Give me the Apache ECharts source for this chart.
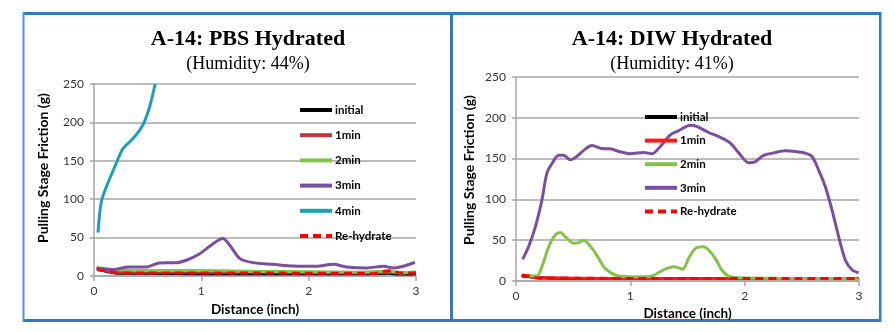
<!DOCTYPE html>
<html><head><meta charset="utf-8">
<script src="https://cdn.jsdelivr.net/npm/echarts@6/dist/echarts.min.js"></script>
<style>html,body{margin:0;padding:0;background:#fff}#c{width:895px;height:332px}</style>
</head><body><div id="c"></div>
<script>
// ---------- Left panel: PBS Hydrated ----------
const pbsBaseX = [0.03, 0.2, 0.5, 1.0, 1.5, 2.0, 2.5, 2.75, 2.85, 3.0];
const pbsInit  = [9, 4, 3.5, 3, 3, 3, 3, 3.5, 2.5, 3];
const pbs1min  = [9, 5, 5, 5, 5, 4.5, 4, 5, 4, 4.5];
const pbs2min  = [11, 8, 7, 7, 6, 5.5, 5, 6.5, 4, 5.5];
const pbs3minX = [0.02,0.18,0.32,0.49,0.61,0.77,0.86,0.985,1.11,1.2,1.265,1.36,1.48,1.67,1.86,2.07,2.23,2.35,2.54,2.7,2.79,2.88,2.99];
const pbs3min  = [10,8.3,11.8,11.8,17,17.4,20.5,29,42,48.8,40,22.6,17.4,15.2,13,12.6,15.2,11.8,10.5,12.6,10.5,12.6,17.9];
const pbs4minX = [0.037,0.068,0.115,0.193,0.27,0.35,0.426,0.47,0.52,0.57];
const pbs4min  = [56.6,96.7,116,142,166,177,190,201,221,250];
const pbsRehX  = [0.03,0.15,0.2,0.5,1.0,1.5,2.0,2.5,2.6,2.7,2.78,2.85,2.92,3.0];
const pbsReh   = [8,6,4,4,4,4,3.5,3.5,3,6,7,4,4,4];

// ---------- Right panel: DIW Hydrated ----------
const diwBaseX = [0.05,0.2,0.5,1,1.5,2,2.5,3];
const diwInit  = [6,4,3,3,3,3,3,3];
const diw1min  = [7,4,3.5,3,3,3,3,3];
const diw2minX = [0.058,0.18,0.227,0.286,0.344,0.388,0.43,0.504,0.548,0.59,0.665,0.723,0.78,0.868,0.985,1.13,1.19,1.262,1.32,1.38,1.42,1.458,1.51,1.57,1.64,1.685,1.743,1.8,1.86,1.95,2.3,2.7,2.97,3.0];
const diw2min  = [7.4,6,17.6,42,56.5,59.3,54.4,46.2,47,50,40,27.8,15.5,7.4,5.3,5.3,6.1,11.5,15.5,17.6,16.4,14.3,27.8,40,42,38,27.8,13.5,6.1,4,3.3,3,2.5,0.5];
const diw3minX = [0.058,0.11,0.17,0.227,0.27,0.315,0.373,0.417,0.475,0.53,0.606,0.665,0.75,0.825,0.9,1.0,1.117,1.19,1.262,1.35,1.42,1.525,1.58,1.685,1.787,1.875,1.95,2.035,2.09,2.166,2.254,2.356,2.443,2.53,2.589,2.647,2.705,2.764,2.822,2.88,2.94,2.997];
const diw3min  = [26.6,42,66.7,99.4,132,144,154,154,148.5,152.6,161.6,166,162.4,162,158.8,156,157.5,156,164.9,179,184,191,189.4,182,176,169,156.7,145,146,154,157,159.6,158.8,156.7,152.6,136,115.8,87,54.4,25.8,13.5,10.2];
const diwRehX  = [0.05,0.12,0.2,0.5,1,1.5,2,2.5,3];
const diwReh   = [7,6,3.5,3.5,3,3,3,3,3];

const xTicks = [0, 1, 2, 3];
const yTicks = [0, 50, 100, 150, 200, 250];
const legendLeft  = ['initial', '1min', '2min', '3min', '4min', 'Re-hydrate'];
const legendRight = ['initial', '1min', '2min', '3min', 'Re-hydrate'];

const pairs = (xs, ys) => xs.map((x, i) => [x, ys[i]]);
const C = { black:'#000000', darkRed:'#c0383c', red:'#ff1a1a', green:'#86c24a', purple:'#7b4f9f', teal:'#1e9fb5', dash:'#ff0000' };

const FONT = 'Lato, "Liberation Sans", sans-serif';
function mkSeries(name, data, idx, color, dashed) {
  return { name, type:'line', xAxisIndex: idx, yAxisIndex: idx, data, symbol:'none', smooth:0.3,
    lineStyle:{ color, width: 3, type: dashed ? [8,5] : 'solid' }, itemStyle:{color}, z: dashed ? 5 : 3 };
}
const series = [
  mkSeries('initial', pairs(pbsBaseX, pbsInit), 0, C.black),
  mkSeries('1min', pairs(pbsBaseX, pbs1min), 0, C.darkRed),
  mkSeries('2min', pairs(pbsBaseX, pbs2min), 0, C.green),
  mkSeries('3min', pairs(pbs3minX, pbs3min), 0, C.purple),
  mkSeries('4min', pairs(pbs4minX, pbs4min), 0, C.teal),
  mkSeries('Re-hydrate', pairs(pbsRehX, pbsReh), 0, C.dash, true),
  mkSeries('initial', pairs(diwBaseX, diwInit), 1, C.black),
  mkSeries('1min', pairs(diwBaseX, diw1min), 1, C.red),
  mkSeries('2min', pairs(diw2minX, diw2min), 1, C.green),
  mkSeries('3min', pairs(diw3minX, diw3min), 1, C.purple),
  mkSeries('Re-hydrate', pairs(diwRehX, diwReh), 1, C.dash, true),
];

const leftColors  = [C.black, C.darkRed, C.green, C.purple, C.teal, C.dash];
const rightColors = [C.black, C.red, C.green, C.purple, C.dash];
function legendData(names, colors) {
  return names.map((n, i) => ({ name: n, itemStyle:{color: colors[i], opacity: 0},
    lineStyle:{ color: colors[i], width: 4, type: n === 'Re-hydrate' ? [8,5] : 'solid' } }));
}
const legendCommon = { orient:'vertical', itemWidth:32, itemHeight:12, selectedMode:false, padding:0,
  textStyle:{ fontFamily: FONT, fontWeight:'bold', fontSize:11.5, color:'#000', padding:[0,0,0,-2] } };

function xAxis(idx, gap) {
  return { type:'value', gridIndex: idx, min:0, max:3, interval:1,
    name:'Distance (inch)', nameLocation:'middle', nameGap: gap,
    nameTextStyle:{ fontFamily: FONT, fontWeight:'bold', fontSize:13.5, color:'#000' },
    axisLine:{ lineStyle:{ color:'#a6a6a6', width:1.5 } },
    axisTick:{ show:true, length:5, lineStyle:{ color:'#a6a6a6', width:1.5 } },
    axisLabel:{ fontFamily: FONT, fontSize:12, color:'#333', margin:9,
      formatter: v => xTicks.includes(v) ? String(v) : '' },
    splitLine:{ show:false } };
}
function yAxis(idx, gap, shift) {
  return { type:'value', gridIndex: idx, min:0, max:250, interval:50,
    name:'Pulling Stage Friction (g)', nameLocation:'middle', nameGap: gap, nameRotate: 90,
    nameTextStyle:{ fontFamily: FONT, fontWeight:'bold', fontSize:14, color:'#000', padding:[0,0,0,shift] },
    axisLine:{ show:true, lineStyle:{ color:'#a6a6a6', width:1.5 } },
    axisTick:{ show:true, length:4, lineStyle:{ color:'#a6a6a6', width:1.5 } },
    axisLabel:{ fontFamily: FONT, fontSize:12, color:'#333', margin:10,
      formatter: v => yTicks.includes(v) ? String(v) : '' },
    splitLine:{ show:true, lineStyle:{ color:'#a6a6a6', width:1.5 } } };
}

const blue = '#3378c6';
const option = {
  backgroundColor:'#fff',
  animation:false,
  title:[
    { text:'A-14: PBS Hydrated', subtext:'(Humidity: 44%)', left:243, top:23, textAlign:'center', itemGap:5,
      textStyle:{ fontFamily:'"Liberation Serif", serif', fontWeight:'bold', fontSize:22, color:'#000' },
      subtextStyle:{ fontFamily:'"Liberation Serif", serif', fontSize:18, color:'#000' } },
    { text:'A-14: DIW Hydrated', subtext:'(Humidity: 41%)', left:667, top:23, textAlign:'center', itemGap:5,
      textStyle:{ fontFamily:'"Liberation Serif", serif', fontWeight:'bold', fontSize:22, color:'#000' },
      subtextStyle:{ fontFamily:'"Liberation Serif", serif', fontSize:18, color:'#000' } }
  ],
  legend:[
    Object.assign({}, legendCommon, { left:298, top:104, itemGap:13.2, data: legendData(legendLeft, leftColors) }),
    Object.assign({}, legendCommon, { left:643, top:111, itemGap:11.6, data: legendData(legendRight, rightColors) })
  ],
  grid:[
    { left:94, top:84, width:322, height:192 },
    { left:516, top:77, width:343, height:204 }
  ],
  xAxis:[ xAxis(0, 27), xAxis(1, 22) ],
  yAxis:[ yAxis(0, 44, 24), yAxis(1, 40, 18) ],
  series,
  graphic:[
    { type:'rect', shape:{x:23, y:12, width:858, height:3}, style:{fill:blue}, silent:true },
    { type:'rect', shape:{x:23, y:319, width:858, height:3}, style:{fill:blue}, silent:true },
    { type:'rect', shape:{x:22.5, y:12, width:2, height:310}, style:{fill:'#5b8fd0'}, silent:true },
    { type:'rect', shape:{x:450, y:12, width:3, height:310}, style:{fill:blue}, silent:true },
    { type:'rect', shape:{x:879, y:12, width:2.5, height:310}, style:{fill:blue}, silent:true }
  ]
};
const chart = echarts.init(document.getElementById('c'), null, {renderer:'canvas'});
chart.setOption(option);
</script></body></html>
